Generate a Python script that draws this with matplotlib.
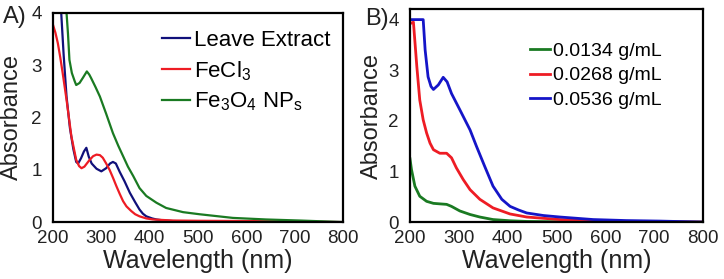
import matplotlib
matplotlib.use('Agg')
import matplotlib.pyplot as plt

plt.rcParams['font.family'] = ['Liberation Sans', 'DejaVu Sans']
plt.rcParams['mathtext.fontset'] = 'custom'
plt.rcParams['mathtext.rm'] = 'Liberation Sans'
plt.rcParams['mathtext.it'] = 'Liberation Sans:italic'

# ---- Panel A: leave extract, FeCl3, Fe3O4 NPs ----
wl_leave = [200, 217, 222, 228, 235, 242, 248, 252, 258, 264, 269, 274, 280, 290, 300, 310,
            318, 324, 330, 338, 348, 359, 370, 379, 386, 393, 405, 414, 430, 448, 500, 600, 700, 800]
abs_leave = [4.0, 4.0, 3.2, 2.4, 1.8, 1.4, 1.15, 1.12, 1.22, 1.35, 1.42, 1.25, 1.12, 1.02, 0.97, 1.03,
             1.12, 1.15, 1.12, 0.96, 0.78, 0.56, 0.38, 0.24, 0.16, 0.11, 0.07, 0.05, 0.03, 0.02, 0.01, 0.005, 0.0, 0.0]

wl_fecl3 = [200, 205, 210, 215, 220, 228, 238, 248, 254, 259, 265, 275, 283, 290, 297, 303, 310,
            317, 324, 331, 338, 345, 352, 362, 370, 379, 393, 407, 448, 500, 600, 700, 800]
abs_fecl3 = [3.77, 3.62, 3.42, 3.15, 2.85, 2.34, 1.64, 1.19, 1.07, 1.03, 1.06, 1.18, 1.26, 1.29, 1.28, 1.23, 1.12,
             1.0, 0.85, 0.69, 0.54, 0.40, 0.30, 0.21, 0.15, 0.11, 0.07, 0.05, 0.03, 0.025, 0.02, 0.01, 0.0]

wl_np = [200, 228, 231, 234, 239, 245, 248, 255, 262, 270, 275, 279, 288, 297, 310, 324, 335, 345,
         355, 366, 379, 393, 414, 434, 469, 503, 572, 641, 710, 800]
abs_np = [4.0, 4.0, 3.6, 3.1, 2.85, 2.69, 2.62, 2.66, 2.76, 2.88, 2.82, 2.75, 2.58, 2.4, 2.07, 1.70, 1.46, 1.26,
          1.06, 0.88, 0.65, 0.50, 0.37, 0.27, 0.19, 0.15, 0.08, 0.05, 0.03, 0.0]

# ---- Panel B: concentrations ----
wl_c3 = [200, 227, 231, 237, 243, 248, 258, 268, 276, 285, 302, 323, 336, 353, 370, 388, 405,
         422, 439, 473, 507, 575, 643, 711, 800]
abs_c3 = [4.0, 4.0, 3.4, 2.87, 2.68, 2.62, 2.71, 2.86, 2.77, 2.54, 2.22, 1.82, 1.50, 1.10, 0.71, 0.45, 0.31,
          0.24, 0.18, 0.13, 0.10, 0.05, 0.03, 0.02, 0.0]

wl_c2 = [200, 207, 214, 220, 227, 234, 241, 248, 261, 275, 285, 295, 309, 323, 343, 370, 405,
         439, 507, 575, 643, 800]
abs_c2 = [3.92, 3.95, 3.07, 2.41, 2.02, 1.76, 1.56, 1.43, 1.36, 1.36, 1.27, 1.07, 0.84, 0.64, 0.45, 0.28, 0.16,
          0.10, 0.05, 0.03, 0.01, 0.0]

wl_c1 = [200, 203, 210, 220, 234, 248, 261, 275, 285, 302, 323, 343, 370, 405, 439, 507, 800]
abs_c1 = [1.25, 1.04, 0.71, 0.51, 0.41, 0.37, 0.36, 0.35, 0.31, 0.22, 0.15, 0.10, 0.05, 0.026, 0.013, 0.006, 0.0]

fig = plt.figure(figsize=(7.24, 2.79), dpi=100)
axA = fig.add_axes([0.0732, 0.204, 0.4006, 0.750])
axB = fig.add_axes([0.5663, 0.204, 0.4047, 0.762])

axA.plot(wl_leave, abs_leave, color='#10107a', linewidth=1.6, label='Leave Extract')
axA.plot(wl_fecl3, abs_fecl3, color='#ee1c24', linewidth=1.6, label='FeCl$_\\mathregular{3}$')
axA.plot(wl_np, abs_np, color='#1a7a22', linewidth=1.6,
         label='Fe$_\\mathregular{3}$O$_\\mathregular{4}$ NP$_\\mathregular{s}$')

axB.plot(wl_c1, abs_c1, color='#1a7a22', linewidth=2.0, label='0.0134 g/mL')
axB.plot(wl_c2, abs_c2, color='#ee1c24', linewidth=2.0, label='0.0268 g/mL')
axB.plot(wl_c3, abs_c3, color='#1515c8', linewidth=2.0, label='0.0536 g/mL')

axA.set_ylim(0, 4)
axB.set_ylim(0, 4.2)

for ax in (axA, axB):
    ax.set_xlim(200, 800)
    ax.set_xticks([200, 300, 400, 500, 600, 700, 800])
    ax.set_yticks([0, 1, 2, 3, 4])
    ax.tick_params(length=0, labelsize=13.5, colors='#222222')
    ax.tick_params(axis='x', pad=6)
    ax.tick_params(axis='y', pad=8)
    for s in ax.spines.values():
        s.set_linewidth(1.6)
        s.set_color('black')
    ax.set_xlabel('Wavelength (nm)', fontsize=18, color='#222222', labelpad=1)
    ax.set_ylabel('Absorbance', fontsize=17, color='#222222')

axA.yaxis.set_label_coords(-0.103, 0.5)
axB.yaxis.set_label_coords(-0.092, 0.5)

axA.legend(loc='upper left', bbox_to_anchor=(0.376, 0.917), frameon=False, fontsize=16,
           handlelength=1.27, handletextpad=0.15, labelspacing=0.35, borderpad=0, borderaxespad=0)
axB.legend(loc='upper left', bbox_to_anchor=(0.41, 0.845), frameon=False, fontsize=14,
           handlelength=1.03, handletextpad=0.15, labelspacing=0.35, borderpad=0, borderaxespad=0)

fig.text(3 / 724, 1 - 17 / 279, 'A)', fontsize=17, ha='left', va='center', color='#222222')
fig.text(365 / 724, 1 - 19 / 279, 'B)', fontsize=17, ha='left', va='center', color='#222222')

fig.savefig('out.png', dpi=100)
